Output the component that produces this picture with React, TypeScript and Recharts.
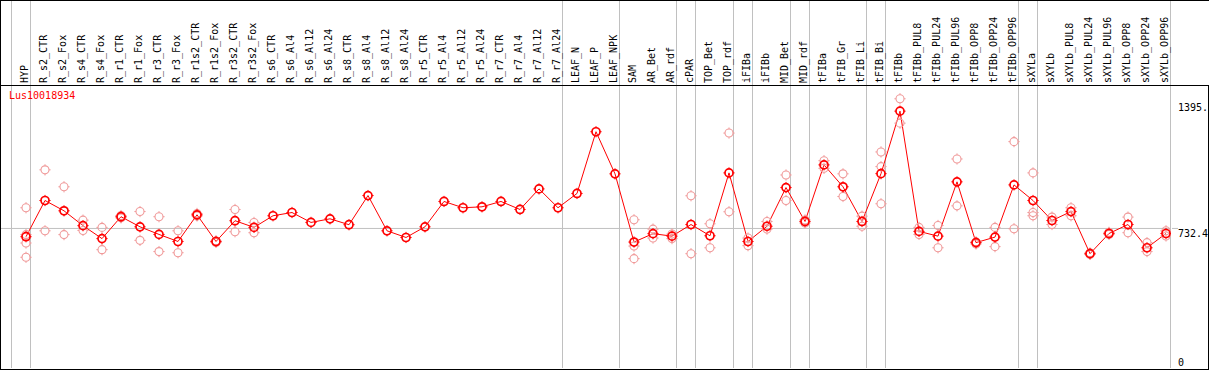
import React from "react";
import {
  ComposedChart,
  Line,
  Scatter,
  XAxis,
  YAxis,
  ReferenceLine,
} from "recharts";

const title = "Lus10018934";

const categories = [
  "HYP", "R_s2_CTR", "R_s2_Fox", "R_s4_CTR", "R_s4_Fox", "R_r1_CTR", "R_r1_Fox",
  "R_r3_CTR", "R_r3_Fox", "R_r1s2_CTR", "R_r1s2_Fox", "R_r3s2_CTR", "R_r3s2_Fox",
  "R_s6_CTR", "R_s6_Al4", "R_s6_Al12", "R_s6_Al24", "R_s8_CTR", "R_s8_Al4",
  "R_s8_Al12", "R_s8_Al24", "R_r5_CTR", "R_r5_Al4", "R_r5_Al12", "R_r5_Al24",
  "R_r7_CTR", "R_r7_Al4", "R_r7_Al12", "R_r7_Al24", "LEAF_N", "LEAF_P", "LEAF_NPK",
  "SAM", "AR_Bet", "AR_rdf", "cPAR", "TOP_Bet", "TOP_rdf", "iFIBa", "iFIBb",
  "MID_Bet", "MID_rdf", "tFIBa", "tFIB_Gr", "tFIB_Li", "tFIB_Bi", "tFIBb",
  "tFIBb_PUL8", "tFIBb_PUL24", "tFIBb_PUL96", "tFIBb_OPP8", "tFIBb_OPP24",
  "tFIBb_OPP96", "sXYLa", "sXYLb", "sXYLb_PUL8", "sXYLb_PUL24", "sXYLb_PUL96",
  "sXYLb_OPP8", "sXYLb_OPP24", "sXYLb_OPP96",
];

const means = [
  689, 879, 825, 747, 679, 794, 741, 701, 664, 804, 664, 773, 738,
  799, 816, 764, 783, 752, 905, 720, 685, 741, 874, 841, 846,
  874, 832, 940, 841, 916, 1240, 1019,
  661, 705, 692, 753, 694, 1024, 664, 744, 947, 769,
  1066, 951, 769, 1020, 1348,
  717, 692, 977, 658, 687, 961,
  879, 774, 821, 600, 706, 753, 631, 706,
];

const replicates: number[][] = [
  [841, 656, 581, 700], [1040, 720], [951, 700], [776, 722], [738, 621],
  [800, 788], [821, 670], [794, 611], [720, 605], [811, 798], [667, 659],
  [832, 715], [764, 710],
  [], [], [], [], [], [], [], [], [], [], [], [], [], [], [], [], [], [], [],
  [778, 640, 574], [729, 682], [703, 679], [904, 600], [757, 631], [1233, 820],
  [682, 642], [769, 729], [1013, 879], [777, 761],
  [1088, 1048], [1019, 900], [797, 744], [1134, 1057, 862], [1413, 1285],
  [738, 701], [748, 631], [1097, 851], [662, 651], [738, 637], [1188, 731],
  [1024, 816, 799], [792, 753], [841, 799], [604, 596], [712, 701],
  [792, 710], [658, 611], [720, 693],
];

const separatorsAfter = [-1, 0, 28, 31, 34, 35, 37, 38, 40, 41, 44, 45, 52, 53, 60];

const yTicks = [0, 732.4, 1395];
const yTickLabels = ["0", "732.4", "1395."];

const meanData = means.map((v, i) => ({ x: i, v }));
const repData = replicates.flatMap((arr, i) => arr.map((v) => ({ x: i, v })));

const RED = "#ff0000";
const PINK = "#f09a9a";
const GRID = "#c0c0c0";
const FONT = "'DejaVu Sans Mono', monospace";

const Y_MAX = 1480;
const Y_TOP_OF_PAGE = (Y_MAX * 368) / 282;

const Marker = (props: any) => {
  const { cx, cy, color, sw } = props;
  if (cx == null || cy == null) return null;
  const r = 4;
  const s = 1.6;
  return (
    <g>
      <circle cx={cx} cy={cy} r={r} fill="none" stroke={color} strokeWidth={sw} />
      <line x1={cx} y1={cy - r - s} x2={cx} y2={cy - r} stroke={color} strokeWidth={1} />
      <line x1={cx} y1={cy + r} x2={cx} y2={cy + r + s} stroke={color} strokeWidth={1} />
      <line x1={cx - r - s} y1={cy} x2={cx - r} y2={cy} stroke={color} strokeWidth={1} />
      <line x1={cx + r} y1={cy} x2={cx + r + s} y2={cy} stroke={color} strokeWidth={1} />
    </g>
  );
};

const XTick = (props: any) => {
  const { x, payload } = props;
  const label = categories[payload.value];
  if (label === undefined) return null;
  const bx = x + 1.5;
  const by = 83;
  return (
    <text
      x={bx}
      y={by}
      transform={`rotate(-90 ${bx} ${by})`}
      textAnchor="start"
      fontFamily={FONT}
      fontSize={10}
      fill="#000"
    >
      {label}
    </text>
  );
};

const YTick = (props: any) => {
  const { x, y, payload } = props;
  const idx = yTicks.indexOf(payload.value);
  const label = idx >= 0 ? yTickLabels[idx] : String(payload.value);
  const dy = payload.value === 0 ? -2 : 8.5;
  return (
    <g>
      {payload.value === 732.4 && (
        <line x1={x - 7} y1={y} x2={x - 1} y2={y} stroke={GRID} strokeWidth={1} />
      )}
      <text x={1178} y={y + dy} textAnchor="start" fontFamily={FONT} fontSize={10} fill="#000">
        {label}
      </text>
    </g>
  );
};

const W = 1209;
const H = 370;
const D0 = -25 / 19;
const D1 = D0 + 1170 / 19;

export default function App() {
  return (
    <div style={{ position: "absolute", left: 0, top: 0, width: W, height: H, background: "#fff" }}>
      <ComposedChart
        width={W}
        height={H}
        data={meanData}
        margin={{ top: 0, right: 0, bottom: 2, left: 1 }}
      >
        <XAxis
          xAxisId={0}
          type="number"
          dataKey="x"
          orientation="top"
          domain={[D0, D1]}
          allowDataOverflow
          ticks={categories.map((_, i) => i)}
          interval={0}
          height={86}
          axisLine={false}
          tickLine={false}
          tick={<XTick />}
        />
        <YAxis
          yAxisId={0}
          orientation="right"
          width={38}
          domain={[0, Y_MAX]}
          allowDataOverflow
          ticks={yTicks}
          interval={0}
          axisLine={false}
          tickLine={false}
          tick={<YTick />}
        />
        {separatorsAfter.map((i) => (
          <ReferenceLine
            key={"s" + i}
            segment={[
              { x: i + 4.5 / 19, y: 0 },
              { x: i + 4.5 / 19, y: Y_TOP_OF_PAGE },
            ]}
            stroke={GRID}
            strokeWidth={1}
            ifOverflow="visible"
          />
        ))}
        <ReferenceLine y={732.4} stroke={GRID} strokeWidth={1} />
        <Scatter
          data={repData}
          dataKey="v"
          isAnimationActive={false}
          shape={(p: any) => <Marker {...p} color={PINK} sw={1.1} />}
        />
        <Line
          data={meanData}
          dataKey="v"
          stroke={RED}
          strokeWidth={1}
          isAnimationActive={false}
          dot={(p: any) => <Marker key={"m" + p.index} {...p} color={RED} sw={1.7} />}
          activeDot={false}
        />
      </ComposedChart>
      <div style={{ position: "absolute", left: 0, top: 0, width: W, height: 1, background: "#000" }} />
      <div style={{ position: "absolute", left: 0, top: 85, width: W, height: 1, background: "#000" }} />
      <div style={{ position: "absolute", left: 0, top: 0, width: 1, height: H, background: "#000" }} />
      <div style={{ position: "absolute", left: 1208, top: 85, width: 1, height: H - 85, background: "#000" }} />
      <div style={{ position: "absolute", left: 0, top: 369, width: W, height: 1, background: "#000" }} />
      <div
        style={{
          position: "absolute",
          left: 9,
          top: 90,
          fontFamily: FONT,
          fontSize: 10,
          lineHeight: "12px",
          color: RED,
          whiteSpace: "nowrap",
        }}
      >
        {title}
      </div>
    </div>
  );
}
